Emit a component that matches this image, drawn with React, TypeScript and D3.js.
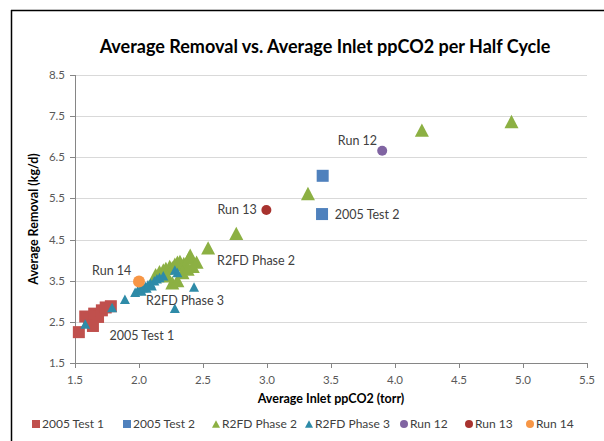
import React from "react";
import * as d3 from "d3";

const W = 604;
const H = 441;

const xTicks = [1.5, 2.0, 2.5, 3.0, 3.5, 4.0, 4.5, 5.0, 5.5];
const yTicks = [1.5, 2.5, 3.5, 4.5, 5.5, 6.5, 7.5, 8.5];

const test2005_1: [number, number][] = [
  [1.53, 2.25], [1.58, 2.63], [1.61, 2.55], [1.64, 2.4], [1.65, 2.7],
  [1.68, 2.62], [1.71, 2.78], [1.74, 2.85], [1.78, 2.88],
];
const test2005_2: [number, number][] = [
  [3.435, 6.05], [3.43, 5.12],
];
const r2fdPhase2: [number, number][] = [
  [2.13, 3.65], [2.16, 3.72], [2.19, 3.76], [2.21, 3.8], [2.24, 3.85],
  [2.26, 3.82], [2.28, 3.9], [2.3, 3.95], [2.32, 3.97], [2.35, 3.92],
  [2.37, 3.88], [2.39, 4.05], [2.4, 4.12], [2.42, 3.85], [2.45, 3.95],
  [2.22, 3.62], [2.26, 3.45], [2.3, 3.5], [2.34, 3.7], [2.38, 3.78],
  [2.54, 4.3], [2.76, 4.65], [3.32, 5.62], [4.21, 7.16], [4.91, 7.37],
];
const r2fdPhase3: [number, number][] = [
  [1.58, 2.45], [1.79, 2.85], [1.89, 3.05], [1.97, 3.22], [1.99, 3.26],
  [2.01, 3.3], [2.03, 3.33], [2.05, 3.36], [2.07, 3.4], [2.09, 3.44],
  [2.12, 3.5], [2.14, 3.55], [2.16, 3.58], [2.19, 3.62], [2.28, 3.76],
  [2.3, 3.7], [2.43, 3.35], [2.28, 2.83], [2.02, 3.25], [2.06, 3.32], [2.1, 3.38],
];
const run12: [number, number][] = [[3.9, 6.66]];
const run13: [number, number][] = [[2.995, 5.22]];
const run14: [number, number][] = [[2.0, 3.48]];

const seriesNames = ["2005 Test 1", "2005 Test 2", "R2FD Phase 2", "R2FD Phase 3", "Run 12", "Run 13", "Run 14"];

const dataLabels: { text: string; x: number; y: number; anchor: string }[] = [
  { text: "Run 12", x: 3.86, y: 6.92, anchor: "end" },
  { text: "2005 Test 2", x: 3.53, y: 5.12, anchor: "start" },
  { text: "Run 13", x: 2.92, y: 5.22, anchor: "end" },
  { text: "R2FD Phase 2", x: 2.61, y: 3.98, anchor: "start" },
  { text: "R2FD Phase 3", x: 2.055, y: 3.03, anchor: "start" },
  { text: "Run 14", x: 1.94, y: 3.76, anchor: "end" },
  { text: "2005 Test 1", x: 1.77, y: 2.16, anchor: "start" },
];

const FONT = "Lato, 'Open Sans', sans-serif";

type Shape = "square" | "triangle" | "circle";

function Marker({ shape, x, y, size, color }: { shape: Shape; x: number; y: number; size: number; color: string }) {
  if (shape === "square") {
    return <rect x={x - size / 2} y={y - size / 2} width={size} height={size} fill={color} />;
  }
  if (shape === "circle") {
    return <circle cx={x} cy={y} r={size / 2} fill={color} />;
  }
  const h = size * 0.95;
  const path = `M${x},${y - h / 2} L${x + size / 2},${y + h / 2} L${x - size / 2},${y + h / 2} Z`;
  return <path d={path} fill={color} />;
}

export default function App() {
  const x = d3.scaleLinear().domain([1.5, 5.5]).range([75, 587]);
  const y = d3.scaleLinear().domain([1.5, 8.5]).range([363, 75]);

  const series: { name: string; data: [number, number][]; shape: Shape; color: string; size: number }[] = [
    { name: seriesNames[0], data: test2005_1, shape: "square", color: "#C0504D", size: 12 },
    { name: seriesNames[1], data: test2005_2, shape: "square", color: "#4F81BD", size: 12 },
    { name: seriesNames[2], data: r2fdPhase2, shape: "triangle", color: "#8CB043", size: 14 },
    { name: seriesNames[3], data: r2fdPhase3, shape: "triangle", color: "#2E8BA8", size: 10 },
    { name: seriesNames[4], data: run12, shape: "circle", color: "#8064A2", size: 10 },
    { name: seriesNames[5], data: run13, shape: "circle", color: "#A8332F", size: 10 },
    { name: seriesNames[6], data: run14, shape: "circle", color: "#F79646", size: 12 },
  ];

  const legendX = [36, 127, 216, 309, 404, 469, 530];
  const legendY = 424;

  return (
    <svg width={W} height={H} style={{ position: "absolute", left: 0, top: 0, background: "#fff" }} fontFamily={FONT}>
      <rect x={0} y={0} width={W} height={H} fill="#fff" />
      <line x1={11} y1={10.5} x2={W} y2={10.5} stroke="#000" strokeWidth={1.5} />
      <line x1={11.5} y1={10} x2={11.5} y2={H} stroke="#000" strokeWidth={1.5} />

      <text x={325} y={53} textAnchor="middle" fontSize={18} fontWeight="bold" fill="#000">
        Average Removal vs. Average Inlet ppCO2 per Half Cycle
      </text>

      {yTicks.slice(1).map((t) => (
        <line key={"g" + t} x1={x(1.5)} x2={x(5.5)} y1={Math.round(y(t)) + 0.5} y2={Math.round(y(t)) + 0.5} stroke="#D9D9D9" strokeWidth={1} />
      ))}

      <line x1={x(1.5)} x2={x(5.5)} y1={y(1.5) + 0.5} y2={y(1.5) + 0.5} stroke="#868686" />
      <line x1={x(1.5) + 0.5} x2={x(1.5) + 0.5} y1={y(1.5)} y2={y(8.5)} stroke="#868686" />
      {xTicks.map((t) => (
        <g key={"xt" + t}>
          <line x1={Math.round(x(t)) + 0.5} x2={Math.round(x(t)) + 0.5} y1={y(1.5)} y2={y(1.5) + 5} stroke="#868686" />
          <text x={x(t)} y={384} textAnchor="middle" fontSize={11.5} fill="#595959">
            {t.toFixed(1)}
          </text>
        </g>
      ))}
      {yTicks.map((t) => (
        <g key={"yt" + t}>
          <line x1={x(1.5) - 5} x2={x(1.5)} y1={Math.round(y(t)) + 0.5} y2={Math.round(y(t)) + 0.5} stroke="#868686" />
          <text x={65} y={y(t) + 4} textAnchor="end" fontSize={11.5} fill="#595959">
            {t.toFixed(1)}
          </text>
        </g>
      ))}

      <text x={331} y={403} textAnchor="middle" fontSize={12.5} fontWeight="bold" fill="#000">
        Average Inlet ppCO2 (torr)
      </text>
      <text transform={`translate(38,${(y(1.5) + y(8.5)) / 2}) rotate(-90)`} textAnchor="middle" fontSize={12.5} fontWeight="bold" fill="#000">
        Average Removal (kg/d)
      </text>

      {series.map((s) => (
        <g key={s.name}>
          {s.data.map((d, i) => (
            <Marker key={i} shape={s.shape} x={x(d[0])} y={y(d[1])} size={s.size} color={s.color} />
          ))}
        </g>
      ))}

      {dataLabels.map((l) => (
        <text key={l.text} x={x(l.x)} y={y(l.y) + 4.5} textAnchor={l.anchor as any} fontSize={12.5} fill="#404040">
          {l.text}
        </text>
      ))}

      {series.map((s, i) => (
        <g key={"lg" + s.name}>
          <Marker shape={s.shape} x={legendX[i]} y={legendY} size={8} color={s.color} />
          <text x={legendX[i] + 6} y={legendY + 4} fontSize={12} fill="#404040">
            {s.name}
          </text>
        </g>
      ))}
    </svg>
  );
}
